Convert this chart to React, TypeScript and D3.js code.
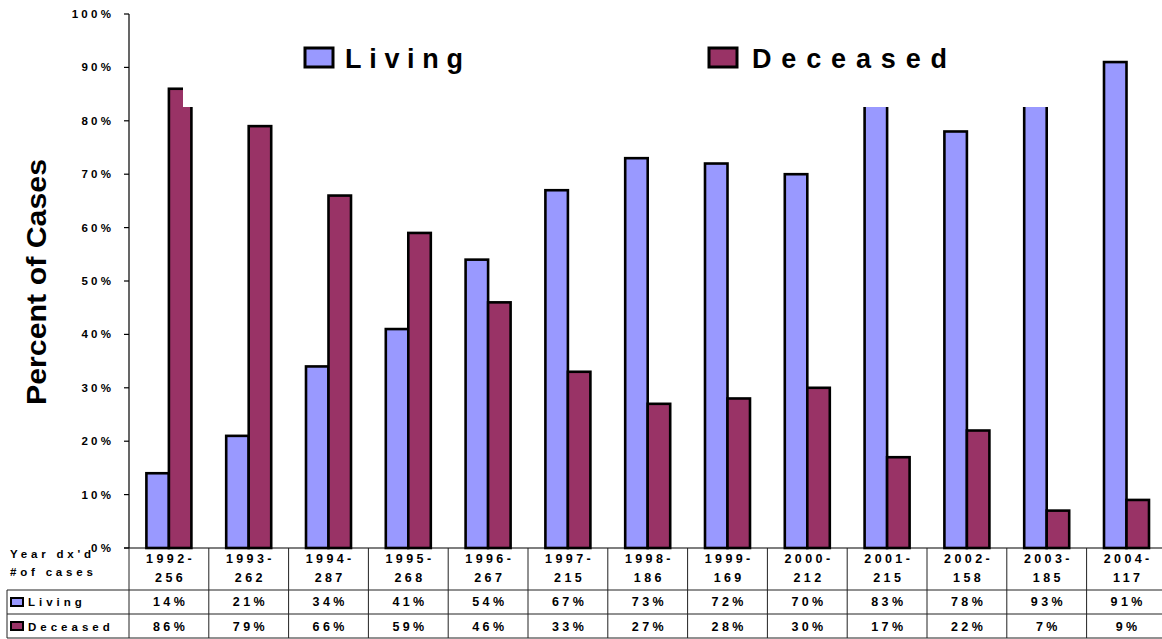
import React from "react";
import * as d3 from "d3";

const categories = ["1992", "1993", "1994", "1995", "1996", "1997", "1998", "1999", "2000", "2001", "2002", "2003", "2004"];
const caseCounts = ["256", "262", "287", "268", "267", "215", "186", "169", "212", "215", "158", "185", "117"];
const living = [14, 21, 34, 41, 54, 67, 73, 72, 70, 83, 78, 93, 91];
const deceased = [86, 79, 66, 59, 46, 33, 27, 28, 30, 17, 22, 7, 9];
const yTicks = [0, 10, 20, 30, 40, 50, 60, 70, 80, 90, 100];
const seriesNames = ["Living", "Deceased"];
const colors = ["#9999FF", "#993366"];

const W = 1162;
const H = 639;
const FONT = "'Liberation Sans', Arial, Helvetica, sans-serif";

export default function App() {
  const x = d3.scaleBand<string>().domain(categories).range([129, 129 + 13 * 79.8]).paddingInner(0).paddingOuter(0);
  const y = d3.scaleLinear().domain([0, 100]).range([548, 14]);
  const bw = 22.5;
  const bw2 = x.bandwidth();
  const series = [living, deceased];
  const tableTop = 548;
  const rowLines = [590, 614, 638];
  const right = 129 + 13 * 79.8;

  return (
    <svg width={W} height={H} style={{ position: "absolute", left: 0, top: 0, background: "#fff" }} fontFamily={FONT}>
      {/* bars */}
      {categories.map((c, i) =>
        series.map((s, k) => {
          const cx = (x(c) as number) + bw2 / 2;
          const x0 = cx - bw + k * bw;
          return (
            <rect key={c + k} x={x0} y={y(s[i])} width={bw} height={y(0) - y(s[i])}
              fill={colors[k]} stroke="#000" strokeWidth={2.6} />
          );
        })
      )}
      {/* white legend background covering plot top */}
      <rect x={183} y={20} width={897} height={87} fill="#fff" />
      {/* legend */}
      <rect x={305} y={48} width={28} height={19} fill={colors[0]} stroke="#000" strokeWidth={3} />
      <text x={345} y={68} fontSize={27} fontWeight="bold" textLength={118} lengthAdjust="spacing">{seriesNames[0]}</text>
      <rect x={709} y={48} width={28} height={19} fill={colors[1]} stroke="#000" strokeWidth={3} />
      <text x={752} y={68} fontSize={27} fontWeight="bold" textLength={195} lengthAdjust="spacing">{seriesNames[1]}</text>

      {/* y axis */}
      <line x1={129} x2={129} y1={14} y2={548} stroke="#000" strokeWidth={1.2} />
      {yTicks.map((t) => (
        <g key={t}>
          <line x1={124} x2={129} y1={y(t)} y2={y(t)} stroke="#000" strokeWidth={1.2} />
          <text x={111 + 3.3} y={y(t)} dy="0.35em" textAnchor="end" fontSize={11.5} fontWeight="bold" letterSpacing={3.3}>{t + "%"}</text>
        </g>
      ))}
      <text transform="translate(46,282) rotate(-90)" textAnchor="middle" fontSize={27} fontWeight="bold" textLength={246} lengthAdjust="spacingAndGlyphs">Percent of Cases</text>

      {/* data table */}
      <line x1={124} x2={W} y1={tableTop} y2={tableTop} stroke="#000" strokeWidth={1.2} />
      {rowLines.map((ly) => (
        <line key={ly} x1={7} x2={W} y1={ly} y2={ly} stroke="#222" strokeWidth={1} />
      ))}
      <line x1={7} x2={7} y1={590} y2={638} stroke="#222" strokeWidth={1} />
      {categories.map((c) => (
        <line key={"v" + c} x1={x(c) as number} x2={x(c) as number} y1={tableTop} y2={638} stroke="#222" strokeWidth={1} />
      ))}
      <line x1={right} x2={right} y1={tableTop} y2={638} stroke="#222" strokeWidth={1} />
      <text x={10} y={558} fontSize={11.5} fontWeight="bold" letterSpacing={3.8}>Year dx'd</text>
      <text x={10} y={576} fontSize={11.5} fontWeight="bold" letterSpacing={3.8}>#of cases</text>
      <rect x={11} y={598} width={12} height={8} fill={colors[0]} stroke="#000" strokeWidth={2} />
      <text x={28} y={606} fontSize={11.5} fontWeight="bold" letterSpacing={4}>{seriesNames[0]}</text>
      <rect x={11} y={622} width={12} height={8} fill={colors[1]} stroke="#000" strokeWidth={2} />
      <text x={28} y={631} fontSize={11.5} fontWeight="bold" letterSpacing={4}>{seriesNames[1]}</text>
      {categories.map((c, i) => {
        const cx = (x(c) as number) + bw2 / 2 + 1.7;
        return (
          <g key={"t" + c} fontSize={12.5} fontWeight="bold" textAnchor="middle" letterSpacing={3.4}>
            <text x={cx} y={563}>{c + "-"}</text>
            <text x={cx} y={582}>{caseCounts[i]}</text>
            <text x={cx} y={606}>{living[i] + "%"}</text>
            <text x={cx} y={631}>{deceased[i] + "%"}</text>
          </g>
        );
      })}
    </svg>
  );
}
